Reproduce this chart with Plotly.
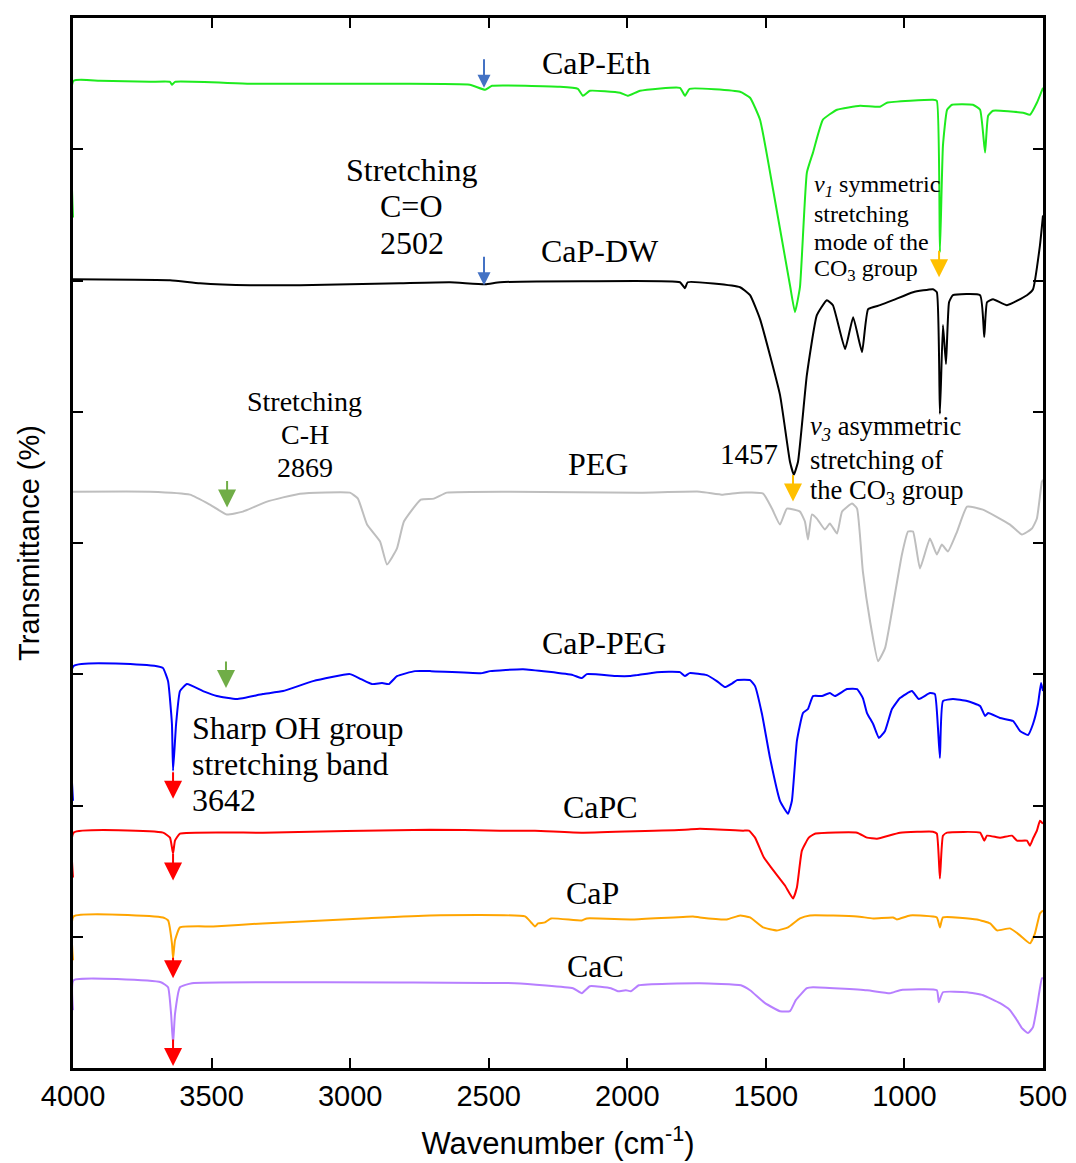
import plotly.graph_objects as go

# ---- data: wavenumber (cm-1) and offset transmittance (a.u.) ----
eth_w = [4000, 3998, 3903, 3722, 3650, 3643, 3632, 3361, 2820, 2568, 2513, 2488, 2243, 2178, 2160, 2135, 2026, 1997, 1954, 1810, 1792, 1775, 1593, 1557, 1521, 1474, 1413, 1395, 1377, 1352, 1330, 1294, 1243, 1160, 1088, 1063, 897, 883, 872, 861, 846, 828, 753, 727, 709, 698, 680, 572, 547, 522, 500]
eth_v = [853, 990, 990, 989, 989, 986, 989, 987, 987, 986, 981, 985, 984, 982, 975, 980, 978, 975, 980, 983, 975, 982, 979, 973, 951, 881, 785, 758, 783, 898, 918, 951, 961, 965, 964, 968, 971, 970, 818, 925, 961, 966, 966, 961, 918, 955, 960, 958, 956, 968, 983]

dw_w = [4000, 3650, 3542, 3361, 3181, 3001, 2820, 2640, 2513, 2459, 2160, 1810, 1792, 1782, 1593, 1557, 1521, 1449, 1413, 1399, 1384, 1352, 1316, 1280, 1258, 1214, 1185, 1153, 1131, 1088, 1041, 969, 897, 883, 872, 861, 850, 839, 825, 727, 712, 702, 680, 630, 558, 536, 511, 500]
dw_v = [791, 790, 787, 785, 785, 786, 787, 788, 786, 788, 789, 788, 782, 788, 783, 775, 751, 675, 608, 595, 608, 695, 755, 770, 765, 721, 753, 718, 761, 765, 770, 778, 781, 778, 656, 745, 706, 768, 775, 775, 733, 768, 771, 765, 775, 781, 825, 855]

peg_w = [4000, 3722, 3578, 3506, 3445, 3387, 3300, 3181, 3001, 2972, 2939, 2892, 2867, 2831, 2806, 2745, 2698, 2651, 2420, 1954, 1738, 1655, 1593, 1510, 1478, 1449, 1424, 1377, 1359, 1348, 1334, 1316, 1287, 1269, 1243, 1225, 1189, 1171, 1150, 1124, 1095, 1070, 1045, 1009, 987, 969, 944, 908, 883, 865, 843, 810, 774, 717, 619, 576, 540, 522, 504, 500]
peg_v = [578, 578, 575, 565, 555, 558, 568, 576, 577, 571, 545, 528, 505, 521, 548, 570, 571, 577, 578, 577, 578, 575, 577, 576, 561, 545, 561, 558, 548, 530, 555, 551, 540, 546, 536, 558, 566, 561, 498, 448, 408, 421, 458, 515, 538, 538, 501, 531, 515, 525, 518, 538, 563, 560, 545, 535, 541, 551, 588, 590]

cpeg_w = [4000, 3998, 3697, 3675, 3657, 3643, 3639, 3628, 3614, 3589, 3531, 3481, 3409, 3315, 3242, 3134, 3001, 2961, 2921, 2885, 2860, 2831, 2766, 2708, 2524, 2495, 2376, 2196, 2164, 2146, 2038, 1991, 1965, 1893, 1810, 1792, 1775, 1713, 1677, 1648, 1620, 1604, 1557, 1539, 1514, 1485, 1449, 1420, 1406, 1388, 1366, 1348, 1330, 1298, 1269, 1251, 1207, 1171, 1150, 1135, 1113, 1092, 1070, 1045, 1016, 973, 948, 908, 890, 879, 872, 861, 825, 774, 727, 709, 698, 655, 608, 583, 554, 536, 518, 507, 500]
cpeg_v = [268, 403, 403, 401, 388, 345, 298, 345, 378, 385, 378, 373, 370, 375, 378, 388, 395, 390, 385, 386, 385, 393, 398, 398, 396, 398, 400, 394, 391, 395, 393, 393, 394, 397, 397, 393, 396, 394, 388, 382, 386, 389, 389, 383, 355, 311, 268, 255, 268, 328, 356, 360, 373, 373, 376, 373, 380, 380, 371, 356, 345, 331, 338, 360, 371, 378, 370, 376, 375, 341, 311, 368, 370, 368, 363, 353, 356, 351, 348, 338, 334, 345, 365, 386, 378]

capc_w = [4000, 3998, 3675, 3650, 3639, 3632, 3614, 3315, 2712, 2459, 2333, 2160, 1792, 1738, 1582, 1561, 1539, 1507, 1478, 1431, 1402, 1388, 1370, 1345, 1323, 1171, 1135, 1099, 1016, 897, 883, 872, 861, 846, 727, 712, 702, 655, 612, 594, 558, 547, 536, 522, 511, 500]
capc_v = [191, 236, 236, 231, 215, 228, 235, 236, 239, 238, 238, 236, 239, 240, 238, 238, 231, 211, 200, 183, 170, 181, 218, 231, 235, 236, 231, 230, 236, 237, 235, 190, 233, 236, 236, 228, 233, 231, 233, 228, 228, 223, 230, 238, 248, 245]

cap_w = [4000, 3998, 3675, 3657, 3643, 3639, 3632, 3614, 3494, 3315, 2954, 2712, 2369, 2347, 2333, 2322, 2297, 2275, 2164, 2146, 1979, 1763, 1738, 1641, 1593, 1557, 1510, 1460, 1420, 1377, 1341, 1171, 1113, 1041, 1027, 980, 883, 872, 861, 738, 691, 666, 619, 583, 547, 529, 511, 500]
cap_v = [108, 152, 151, 148, 125, 110, 128, 141, 142, 145, 150, 153, 152, 146, 142, 145, 146, 150, 148, 150, 149, 152, 151, 149, 153, 151, 141, 138, 141, 150, 153, 152, 150, 151, 149, 153, 151, 141, 151, 149, 145, 138, 140, 133, 125, 135, 155, 158]

cac_w = [4000, 3998, 3683, 3657, 3646, 3639, 3632, 3614, 3571, 3149, 2406, 2196, 2164, 2135, 2059, 2034, 2005, 1987, 1958, 1738, 1590, 1557, 1503, 1449, 1413, 1392, 1352, 1330, 1135, 1052, 1016, 883, 876, 861, 774, 716, 655, 619, 594, 576, 554, 536, 522, 504, 500]
cac_v = [58, 88, 86, 81, 54, 24, 54, 81, 85, 86, 85, 80, 75, 82, 80, 77, 78, 77, 83, 85, 83, 78, 65, 57, 57, 68, 80, 81, 78, 75, 78, 78, 66, 76, 76, 73, 65, 58, 48, 40, 35, 41, 61, 90, 90]

series = [
    ("CaP-Eth", eth_w, eth_v, "#1EEB1E"),
    ("CaP-DW", dw_w, dw_v, "#000000"),
    ("PEG", peg_w, peg_v, "#BEBEBE"),
    ("CaP-PEG", cpeg_w, cpeg_v, "#0000FF"),
    ("CaPC", capc_w, capc_v, "#FF0000"),
    ("CaP", cap_w, cap_v, "#FFA500"),
    ("CaC", cac_w, cac_v, "#B77FFF"),
]

# label positions (wavenumber, offset)
label_w = [2113, 2098, 2106, 2084, 2095, 2124, 2113]
label_v = [1008, 819, 606, 426, 262, 176, 102]

fig = go.Figure()
for name, w, v, col in series:
    fig.add_trace(go.Scatter(x=w, y=v, mode="lines", name=name,
                             line=dict(color=col, width=2, shape="spline", smoothing=0.4),
                             showlegend=False))

SERIF = "Liberation Serif, Times New Roman, serif"
SANS = "Liberation Sans, Arial, Helvetica, sans-serif"

ann = []
for (name, _, _, _), lw, lv in zip(series, label_w, label_v):
    ann.append(dict(x=lw, y=lv, text=name, showarrow=False, xref="x", yref="y",
                    font=dict(family=SERIF, size=32, color="black")))


def block(lines, x, y, spacing, size, xanchor):
    out = []
    for i, line in enumerate(lines):
        out.append(dict(x=x, y=y, xref="x", yref="y", text=line, showarrow=False,
                        xanchor=xanchor, yanchor="middle", yshift=-i * spacing,
                        font=dict(family=SERIF, size=size, color="black")))
    return out


ann += block(["Stretching", "C=O", "2502"], 2777, 901, 36.5, 32, "center")
ann += block(["Stretching", "C-H", "2869"], 3163, 668, 33, 28, "center")
ann += block(["1457"], 1449, 616, 0, 29, "right")
ann += block(["<i>v</i><sub><i>3</i></sub> asymmetric", "stretching of",
              "the CO<sub>3</sub> group"], 1348, 642, 32, 26.5, "left")
ann += block(["<i>v<sub>1</sub></i> symmetric", "stretching", "mode of the",
              "CO<sub>3</sub> group"], 1334, 885, 28, 24, "left")
ann += block(["Sharp OH group", "stretching band", "3642"], 3578, 341, 36, 32, "left")

# arrows: (tip wavenumber, tip offset, colour, length px, head size)
arrows = [
    (2517, 983, "#4472C4", 30, 1.3),
    (2517, 785, "#4472C4", 30, 1.3),
    (875, 793, "#FFC000", 28, 1.8),
    (1402, 568, "#FFC000", 28, 1.8),
    (3444, 562, "#70AD47", 28, 1.8),
    (3448, 381, "#70AD47", 28, 1.8),
    (3639, 270, "#FF0000", 28, 1.8),
    (3639, 188, "#FF0000", 28, 1.8),
    (3639, 90, "#FF0000", 22, 1.8),
    (3639, 2, "#FF0000", 28, 1.8),
]
for aw, av, col, ln, hs in arrows:
    ann.append(dict(x=aw, y=av, xref="x", yref="y", text="", showarrow=True,
                    ax=0, ay=-ln, arrowhead=2, arrowsize=hs, arrowwidth=2,
                    arrowcolor=col))

fig.update_layout(
    width=1076, height=1163,
    margin=dict(l=65, r=41, t=7, b=103),
    paper_bgcolor="white", plot_bgcolor="white",
    annotations=ann,
    xaxis=dict(range=[4000, 500], tickmode="array",
               tickvals=[4000, 3500, 3000, 2500, 2000, 1500, 1000, 500],
               ticks="inside", ticklen=10, tickwidth=1.5, tickcolor="black",
               showline=True, linewidth=2.5, linecolor="black", mirror="ticks",
               showgrid=False, zeroline=False,
               tickfont=dict(family=SANS, size=29, color="black"),
               title=dict(text="Wavenumber (cm<sup>-1</sup>)", standoff=22,
                          font=dict(family=SANS, size=31, color="black"))),
    yaxis=dict(range=[0, 1053], tick0=0, dtick=131.625,
               ticks="inside", ticklen=10, tickwidth=1.5, tickcolor="black",
               showticklabels=False,
               showline=True, linewidth=2.5, linecolor="black", mirror="ticks",
               showgrid=False, zeroline=False,
               title=dict(text="Transmittance (%)", standoff=23,
                          font=dict(family=SANS, size=29, color="black"))),
)

fig.write_html("out.html")
